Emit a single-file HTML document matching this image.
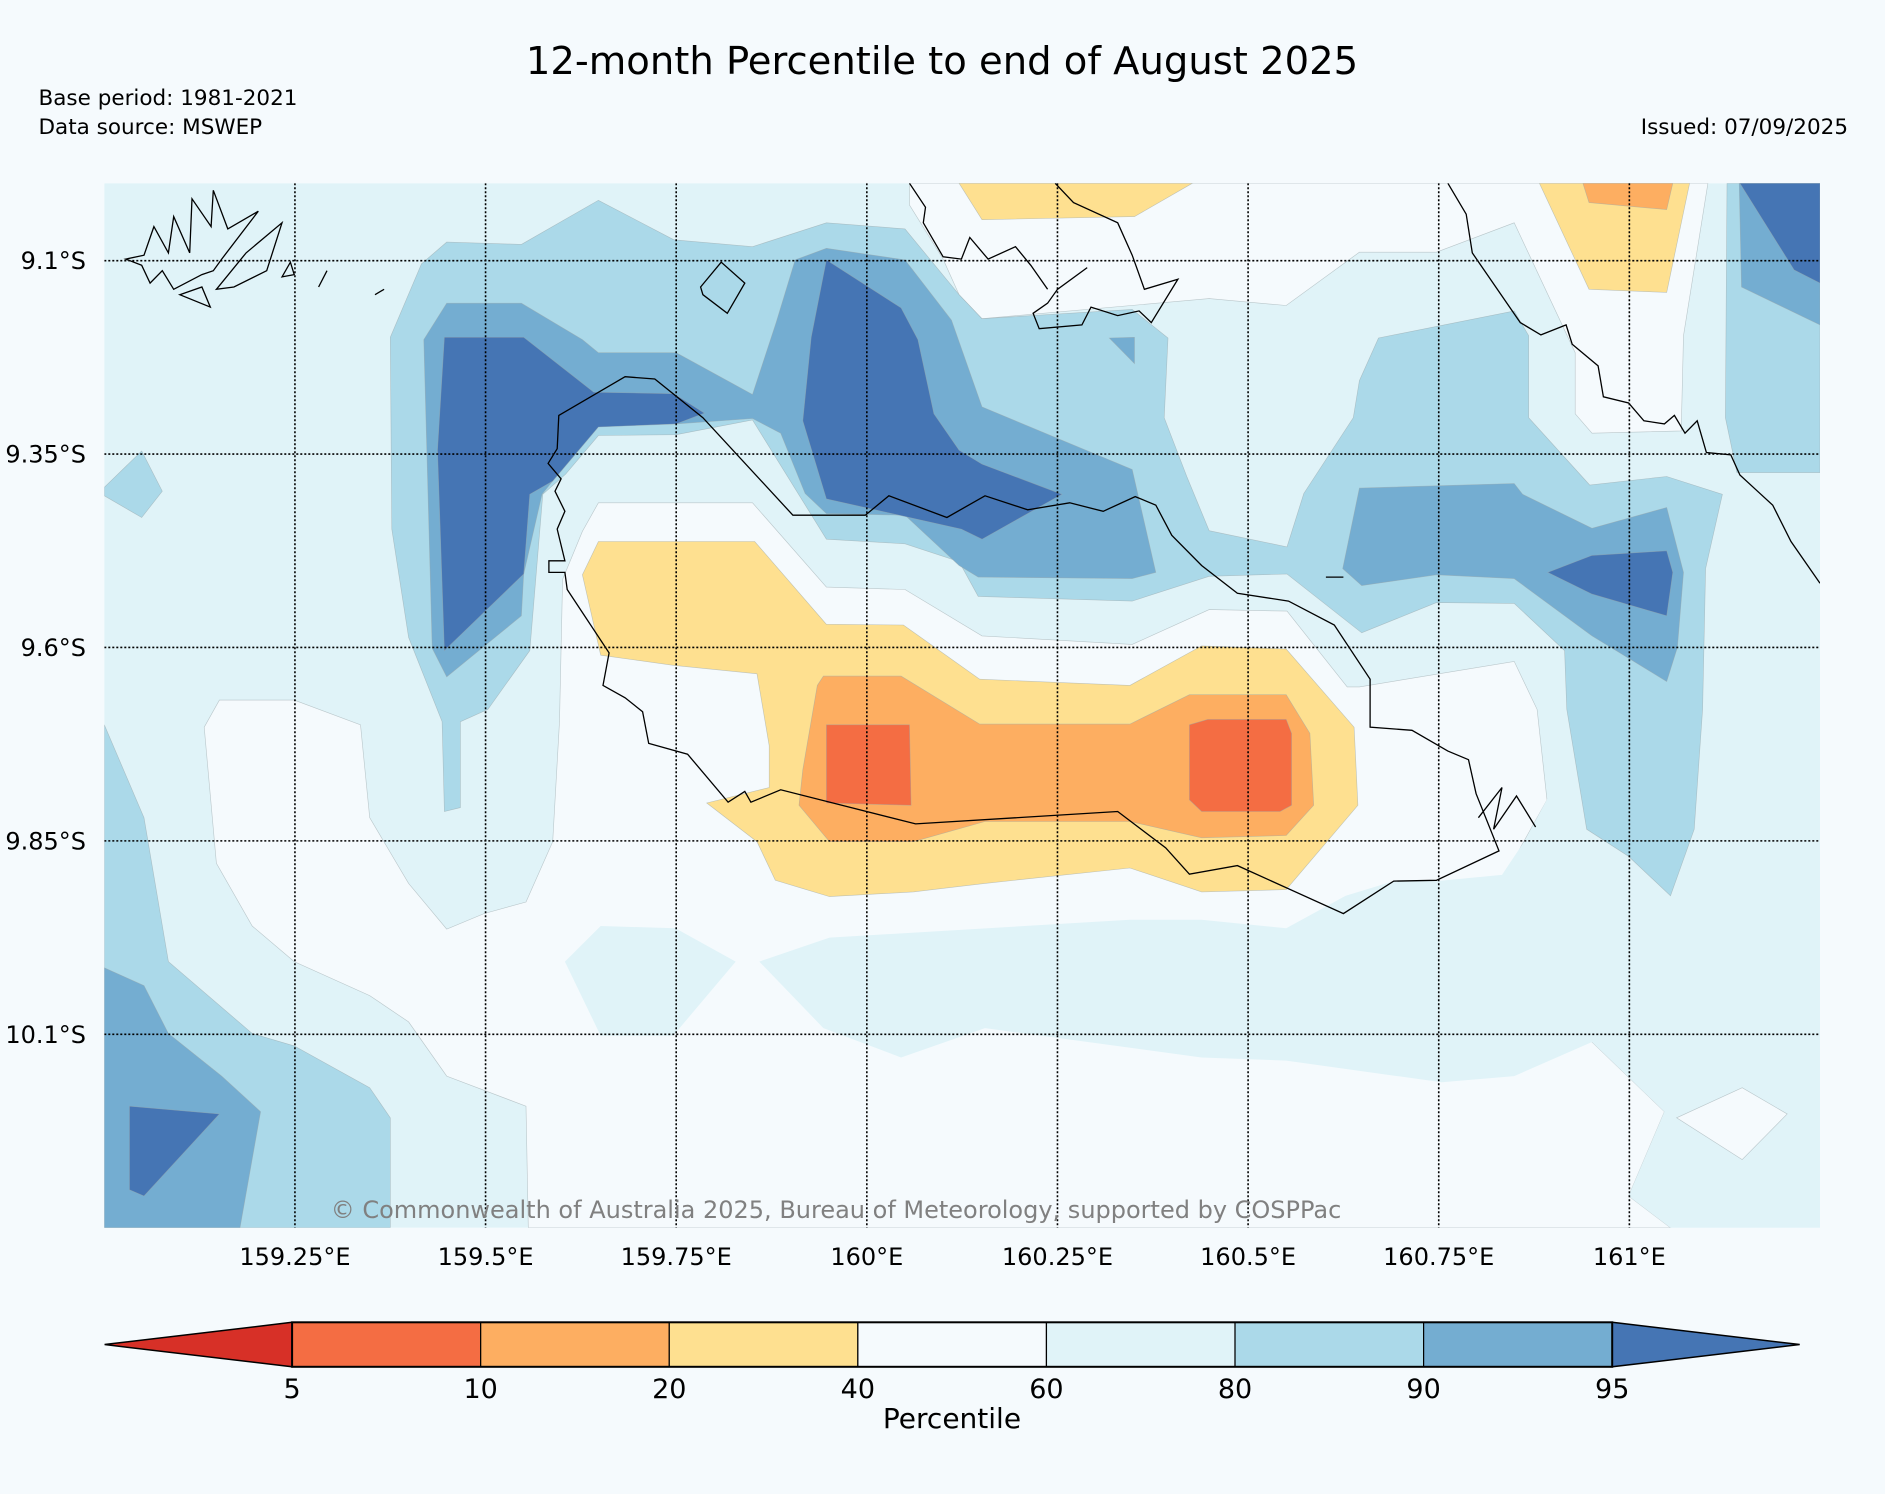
<!DOCTYPE html>
<html><head><meta charset="utf-8"><style>
html,body{margin:0;padding:0;background:#f5fafd;}
svg{display:block;font-family:"DejaVu Sans","Liberation Sans",sans-serif;}
</style></head><body>
<svg id="chart" width="1885" height="1494" viewBox="0 0 1885 1494" xmlns="http://www.w3.org/2000/svg">
<rect x="0" y="0" width="1885" height="1494" fill="#f5fafd"/>
<text x="942" y="74" font-size="38.5" text-anchor="middle" fill="#000">12-month Percentile to end of August 2025</text>
<text x="38.5" y="105" font-size="21.5" fill="#000">Base period: 1981-2021</text>
<text x="38.5" y="134" font-size="21.5" fill="#000">Data source: MSWEP</text>
<text x="1848" y="134" font-size="21.5" text-anchor="end" fill="#000">Issued: 07/09/2025</text>
<defs><clipPath id="plotclip"><rect x="104.3" y="183.3" width="1715.7" height="1044.4"/></clipPath></defs>
<g id="plot" clip-path="url(#plotclip)"></g>
<g id="axes"></g>
<g id="cbar"></g>
</svg>
<script>
// ---- data: band polygons in [lon, lat(°S)] ----
const lonMin = 159.0, lonMax = 161.25, latMin = 9.0, latMax = 10.35;
const lonTicks = [159.25, 159.5, 159.75, 160.0, 160.25, 160.5, 160.75, 161.0];
const lonTickLabels = ["159.25°E","159.5°E","159.75°E","160°E","160.25°E","160.5°E","160.75°E","161°E"];
const latTicks = [9.1, 9.35, 9.6, 9.85, 10.1];
const latTickLabels = ["9.1°S","9.35°S","9.6°S","9.85°S","10.1°S"];
const cbarLevels = [5, 10, 20, 40, 60, 80, 90, 95];
const cbarColors = ["#d73027","#f46d43","#fdae61","#fee090","#f5fafd","#e0f3f8","#abd9e9","#74add1","#4575b4"];

const band40to60 = [
 [[160.056,9.0],[161.103,9.0],[161.071,9.197],[161.068,9.320],[160.951,9.323],[160.929,9.298],[160.929,9.219],[160.849,9.051],[160.747,9.089],[160.646,9.089],[160.550,9.158],[160.449,9.149],[160.151,9.175],[160.121,9.144],[160.100,9.098],[160.056,9.028]],
 [[159.627,9.450],[159.601,9.512],[159.597,9.696],[159.588,9.851],[159.553,9.929],[159.498,9.944],[159.449,9.964],[159.399,9.905],[159.348,9.820],[159.336,9.700],[159.249,9.668],[159.151,9.668],[159.131,9.703],[159.147,9.879],[159.194,9.960],[159.249,10.006],[159.348,10.050],[159.399,10.084],[159.449,10.154],[159.553,10.193],[159.556,10.35],[161.054,10.35],[160.999,10.309],[161.046,10.200],[160.951,10.110],[160.833,9.913],[160.857,9.859],[160.892,9.797],[160.879,9.680],[160.849,9.618],[160.646,9.651],[160.630,9.651],[160.551,9.553],[160.449,9.551],[160.348,9.596],[160.151,9.585],[160.050,9.525],[159.947,9.522],[159.850,9.413],[159.648,9.413]]
];
const band60to80 = [
 [[159.859,10.006],[159.951,9.975],[160.345,9.952],[160.439,9.952],[160.550,9.963],[160.628,9.921],[160.691,9.902],[160.747,9.902],[160.833,9.894],[160.862,9.851],[160.896,9.789],[161.25,9.789],[161.25,10.35],[161.054,10.35],[160.999,10.309],[161.046,10.200],[160.951,10.110],[160.849,10.154],[160.754,10.162],[160.550,10.134],[160.439,10.130],[160.155,10.092],[160.045,10.130],[159.943,10.092]],
 [[159.604,10.006],[159.651,9.960],[159.749,9.963],[159.828,10.006],[159.746,10.102],[159.651,10.102]]
];
const band40to60Islands = [
 [[161.062,10.208],[161.148,10.169],[161.207,10.203],[161.148,10.262]]
];
const band20to40 = [
 [[159.627,9.506],[159.648,9.463],[159.853,9.463],[159.947,9.570],[160.048,9.571],[160.148,9.641],[160.345,9.649],[160.439,9.598],[160.550,9.602],[160.639,9.703],[160.644,9.804],[160.550,9.913],[160.439,9.916],[160.345,9.885],[160.155,9.905],[160.061,9.916],[159.951,9.922],[159.880,9.901],[159.856,9.851],[159.790,9.801],[159.872,9.781],[159.872,9.727],[159.856,9.634],[159.746,9.623],[159.651,9.610]],
 [[160.121,9.0],[160.151,9.047],[160.351,9.043],[160.427,9.0]],
 [[160.882,9.0],[160.947,9.137],[161.049,9.141],[161.079,9.0]]
];
const band10to20 = [
 [[159.916,9.758],[159.935,9.649],[159.943,9.637],[160.045,9.637],[160.148,9.699],[160.345,9.699],[160.423,9.661],[160.550,9.661],[160.581,9.711],[160.586,9.804],[160.550,9.843],[160.439,9.846],[160.345,9.825],[160.155,9.825],[160.061,9.851],[159.951,9.851],[159.911,9.804]],
 [[160.939,9.0],[160.947,9.025],[161.049,9.034],[161.057,9.0]]
];
const band5to10 = [
 [[159.947,9.700],[160.056,9.700],[160.058,9.804],[159.947,9.801]],
 [[160.423,9.700],[160.447,9.693],[160.550,9.693],[160.557,9.711],[160.557,9.804],[160.542,9.812],[160.439,9.812],[160.423,9.797]]
];
const band80to90 = [
 [[159.375,9.199],[159.416,9.104],[159.449,9.076],[159.547,9.079],[159.648,9.022],[159.747,9.073],[159.850,9.082],[159.947,9.051],[160.050,9.059],[160.121,9.144],[160.151,9.175],[160.348,9.163],[160.395,9.200],[160.390,9.303],[160.420,9.380],[160.449,9.449],[160.551,9.470],[160.573,9.401],[160.638,9.303],[160.646,9.255],[160.671,9.200],[160.849,9.165],[160.868,9.197],[160.868,9.303],[160.948,9.390],[161.049,9.379],[161.122,9.402],[161.100,9.498],[161.096,9.680],[161.085,9.835],[161.054,9.921],[160.999,9.870],[160.944,9.835],[160.918,9.680],[160.915,9.604],[160.849,9.543],[160.747,9.542],[160.649,9.581],[160.551,9.505],[160.449,9.508],[160.348,9.540],[160.146,9.534],[160.121,9.489],[160.050,9.466],[159.947,9.460],[159.850,9.306],[159.750,9.325],[159.648,9.326],[159.605,9.376],[159.575,9.402],[159.558,9.604],[159.503,9.680],[159.467,9.696],[159.467,9.807],[159.446,9.812],[159.443,9.696],[159.399,9.587],[159.377,9.447]],
 [[161.128,9.0],[161.126,9.303],[161.141,9.374],[161.25,9.374],[161.25,9.0]],
 [[159.0,9.700],[159.052,9.820],[159.084,10.006],[159.194,10.099],[159.249,10.115],[159.348,10.169],[159.375,10.208],[159.375,10.35],[159.0,10.35]],
 [[159.0,9.393],[159.049,9.346],[159.076,9.398],[159.049,9.432],[159.0,9.404]]
];
const band90to95 = [
 [[159.419,9.202],[159.449,9.155],[159.547,9.155],[159.627,9.202],[159.648,9.219],[159.750,9.219],[159.850,9.273],[159.881,9.180],[159.906,9.099],[159.947,9.084],[160.050,9.099],[160.111,9.177],[160.151,9.289],[160.348,9.370],[160.379,9.503],[160.348,9.511],[160.146,9.509],[160.121,9.494],[160.050,9.429],[159.947,9.427],[159.919,9.401],[159.887,9.323],[159.850,9.304],[159.750,9.311],[159.648,9.311],[159.574,9.402],[159.550,9.505],[159.547,9.559],[159.449,9.638],[159.430,9.601]],
 [[160.646,9.394],[160.849,9.388],[160.860,9.402],[160.951,9.446],[161.049,9.419],[161.071,9.503],[161.063,9.600],[161.049,9.644],[160.951,9.585],[160.849,9.511],[160.747,9.506],[160.649,9.520],[160.624,9.498]],
 [[160.318,9.200],[160.351,9.199],[160.351,9.233]],
 [[161.144,9.0],[161.147,9.134],[161.25,9.183],[161.25,9.0]],
 [[159.0,10.014],[159.052,10.037],[159.084,10.099],[159.154,10.154],[159.205,10.200],[159.178,10.35],[159.0,10.35]]
];
const bandAbove95 = [
 [[159.446,9.199],[159.550,9.199],[159.642,9.270],[159.747,9.272],[159.787,9.297],[159.750,9.311],[159.648,9.315],[159.588,9.385],[159.558,9.402],[159.550,9.505],[159.446,9.604],[159.437,9.345]],
 [[159.947,9.099],[160.045,9.161],[160.067,9.202],[160.088,9.298],[160.121,9.345],[160.151,9.363],[160.256,9.402],[160.151,9.460],[160.124,9.447],[159.947,9.408],[159.916,9.307],[159.927,9.199]],
 [[160.893,9.503],[160.951,9.481],[161.049,9.475],[161.057,9.503],[161.049,9.559],[160.951,9.531]],
 [[161.145,9.0],[161.216,9.112],[161.25,9.129],[161.25,9.0]],
 [[159.033,10.193],[159.151,10.203],[159.052,10.309],[159.033,10.301]]
];
const coastClosed = [
 [[159.596,9.300],[159.683,9.250],[159.722,9.253],[159.785,9.303],[159.903,9.429],[159.998,9.429],[160.029,9.404],[160.105,9.432],[160.155,9.404],[160.211,9.422],[160.266,9.413],[160.310,9.424],[160.352,9.405],[160.379,9.416],[160.400,9.455],[160.439,9.494],[160.486,9.530],[160.553,9.540],[160.613,9.571],[160.660,9.641],[160.660,9.703],[160.715,9.707],[160.762,9.734],[160.789,9.745],[160.799,9.789],[160.829,9.863],[160.747,9.901],[160.691,9.902],[160.625,9.944],[160.486,9.882],[160.423,9.893],[160.392,9.859],[160.329,9.812],[160.064,9.828],[159.887,9.784],[159.848,9.800],[159.840,9.786],[159.818,9.800],[159.765,9.738],[159.714,9.724],[159.706,9.683],[159.683,9.665],[159.654,9.649],[159.662,9.607],[159.607,9.525],[159.604,9.503],[159.583,9.503],[159.583,9.488],[159.604,9.488],[159.594,9.447],[159.604,9.424],[159.591,9.398],[159.599,9.382],[159.582,9.362],[159.594,9.343]],
 [[159.028,9.098],[159.052,9.093],[159.065,9.056],[159.084,9.090],[159.091,9.043],[159.112,9.090],[159.115,9.020],[159.140,9.056],[159.143,9.009],[159.162,9.059],[159.202,9.036],[159.154,9.098],[159.143,9.113],[159.128,9.118],[159.091,9.137],[159.076,9.113],[159.060,9.129],[159.049,9.106]],
 [[159.147,9.137],[159.186,9.090],[159.233,9.051],[159.213,9.113],[159.170,9.134]],
 [[159.099,9.144],[159.128,9.134],[159.139,9.160]],
 [[159.233,9.121],[159.244,9.102],[159.249,9.118]],
 [[159.782,9.134],[159.809,9.102],[159.840,9.129],[159.817,9.168],[159.785,9.144]]
];
const coastOpen = [
 [[160.762,9.0],[160.786,9.040],[160.794,9.090],[160.857,9.180],[160.884,9.196],[160.917,9.183],[160.925,9.208],[160.959,9.236],[160.966,9.276],[160.999,9.284],[161.019,9.307],[161.046,9.311],[161.059,9.300],[161.073,9.323],[161.089,9.307],[161.101,9.348],[161.133,9.351],[161.145,9.377],[161.168,9.398],[161.188,9.416],[161.212,9.463],[161.25,9.517]],
 [[160.056,9.0],[160.077,9.031],[160.074,9.051],[160.100,9.095],[160.124,9.098],[160.135,9.070],[160.159,9.098],[160.195,9.082],[160.215,9.106],[160.237,9.137]],
 [[160.247,9.0],[160.271,9.025],[160.329,9.051],[160.348,9.093],[160.364,9.137],[160.408,9.124],[160.373,9.180],[160.357,9.165],[160.329,9.171],[160.294,9.160],[160.282,9.183],[160.226,9.188],[160.218,9.168],[160.237,9.155],[160.250,9.137],[160.289,9.109]],
 [[160.802,9.820],[160.833,9.781],[160.822,9.835],[160.852,9.792],[160.877,9.832]],
 [[159.281,9.134],[159.292,9.113]],
 [[159.355,9.144],[159.367,9.137]],
 [[160.602,9.509],[160.625,9.509]]
];

// ---- axis functions ----
const PX0 = 104.3, PX1 = 1820.0, PY0 = 183.3, PY1 = 1227.7;
function X(lon){ return PX0 + (lon - lonMin) / (lonMax - lonMin) * (PX1 - PX0); }
function Y(lat){ return PY0 + (lat - latMin) / (latMax - latMin) * (PY1 - PY0); }
const NS = "http://www.w3.org/2000/svg";
const plot = document.getElementById('plot');
const axes = document.getElementById('axes');
const cbar = document.getElementById('cbar');
function ptsStr(poly){ return poly.map(p => X(p[0]).toFixed(1) + ',' + Y(p[1]).toFixed(1)).join(' '); }

const base = document.createElementNS(NS, 'rect');
base.setAttribute('x', PX0); base.setAttribute('y', PY0);
base.setAttribute('width', PX1 - PX0); base.setAttribute('height', PY1 - PY0);
base.setAttribute('fill', '#e0f3f8');


plot.appendChild(base);

const layers = [
 [band40to60, '#f5fafd', 'band-40-60', true],
 [band60to80, '#e0f3f8', 'band-60-80', false],
 [band40to60Islands, '#f5fafd', 'band-40-60-island', true],
 [band20to40, '#fee090', 'band-20-40', true],
 [band10to20, '#fdae61', 'band-10-20', true],
 [band5to10, '#f46d43', 'band-5-10', true],
 [band80to90, '#abd9e9', 'band-80-90', true],
 [band90to95, '#74add1', 'band-90-95', true],
 [bandAbove95, '#4575b4', 'band-above-95', true]
];
layers.forEach(function(layer){
  layer[0].forEach(function(poly){
    const el = document.createElementNS(NS, 'polygon');
    el.setAttribute('points', ptsStr(poly));
    el.setAttribute('fill', layer[1]);
    if (layer[3]) {
      el.setAttribute('stroke', '#9aa6aa');
      el.setAttribute('stroke-width', '0.6');
      el.setAttribute('stroke-opacity', '0.6');
    }
    
    
    plot.appendChild(el);
  });
});
coastClosed.forEach(function(poly){
  const el = document.createElementNS(NS, 'polygon');
  el.setAttribute('points', ptsStr(poly));
  el.setAttribute('fill', 'none'); el.setAttribute('stroke', '#000'); el.setAttribute('stroke-width', '1.3');
  
  
  plot.appendChild(el);
});
coastOpen.forEach(function(poly){
  const el = document.createElementNS(NS, 'polyline');
  el.setAttribute('points', ptsStr(poly));
  el.setAttribute('fill', 'none'); el.setAttribute('stroke', '#000'); el.setAttribute('stroke-width', '1.3');
  
  
  plot.appendChild(el);
});
// gridlines
lonTicks.forEach(function(v, i){
  const l = document.createElementNS(NS, 'line');
  l.setAttribute('x1', X(v)); l.setAttribute('x2', X(v)); l.setAttribute('y1', PY0); l.setAttribute('y2', PY1);
  l.setAttribute('stroke', '#000'); l.setAttribute('stroke-width', '1.6'); l.setAttribute('stroke-dasharray', '2,2');
  
  
  plot.appendChild(l);
  const t = document.createElementNS(NS, 'text');
  t.setAttribute('x', X(v)); t.setAttribute('y', 1265); t.setAttribute('font-size', '24'); t.setAttribute('text-anchor', 'middle');
  t.textContent = lonTickLabels[i];
  
  
  axes.appendChild(t);
});
latTicks.forEach(function(v, i){
  const l = document.createElementNS(NS, 'line');
  l.setAttribute('y1', Y(v)); l.setAttribute('y2', Y(v)); l.setAttribute('x1', PX0); l.setAttribute('x2', PX1);
  l.setAttribute('stroke', '#000'); l.setAttribute('stroke-width', '1.6'); l.setAttribute('stroke-dasharray', '2,2');
  
  
  plot.appendChild(l);
  const t = document.createElementNS(NS, 'text');
  t.setAttribute('x', 86); t.setAttribute('y', Y(v) + 8.5); t.setAttribute('font-size', '24'); t.setAttribute('text-anchor', 'end');
  t.textContent = latTickLabels[i];
  
  
  axes.appendChild(t);
});
const cp = document.createElementNS(NS, 'text');
cp.setAttribute('x', 836); cp.setAttribute('y', 1218); cp.setAttribute('font-size', '24'); cp.setAttribute('text-anchor', 'middle');
cp.setAttribute('fill', '#808080');
cp.textContent = '© Commonwealth of Australia 2025, Bureau of Meteorology, supported by COSPPac';


axes.appendChild(cp);

// colorbar
const CB0 = 292.1, CB1 = 1612.2, CBT = 1322.3, CBB = 1366.8, TIPL = 104.6, TIPR = 1799.7;
const segW = (CB1 - CB0) / (cbarLevels.length - 1);
function CBX(i){ return CB0 + i * segW; }
const midY = (CBT + CBB) / 2;
const lt = document.createElementNS(NS, 'polygon');
lt.setAttribute('points', CB0 + ',' + CBT + ' ' + TIPL + ',' + midY + ' ' + CB0 + ',' + CBB);
lt.setAttribute('fill', cbarColors[0]); lt.setAttribute('stroke', '#000'); lt.setAttribute('stroke-width', '1.5');


cbar.appendChild(lt);
const rt = document.createElementNS(NS, 'polygon');
rt.setAttribute('points', CB1 + ',' + CBT + ' ' + TIPR + ',' + midY + ' ' + CB1 + ',' + CBB);
rt.setAttribute('fill', cbarColors[cbarColors.length - 1]); rt.setAttribute('stroke', '#000'); rt.setAttribute('stroke-width', '1.5');


cbar.appendChild(rt);
for (let i = 0; i < cbarLevels.length - 1; i++) {
  const r = document.createElementNS(NS, 'rect');
  r.setAttribute('x', CBX(i)); r.setAttribute('y', CBT); r.setAttribute('width', segW); r.setAttribute('height', CBB - CBT);
  r.setAttribute('fill', cbarColors[i + 1]); r.setAttribute('stroke', '#000'); r.setAttribute('stroke-width', '1.2');
  
  
  cbar.appendChild(r);
}
const frame = document.createElementNS(NS, 'rect');
frame.setAttribute('x', CB0); frame.setAttribute('y', CBT); frame.setAttribute('width', CB1 - CB0); frame.setAttribute('height', CBB - CBT);
frame.setAttribute('fill', 'none'); frame.setAttribute('stroke', '#000'); frame.setAttribute('stroke-width', '2');


cbar.appendChild(frame);
cbarLevels.forEach(function(v, i){
  const t = document.createElementNS(NS, 'text');
  t.setAttribute('x', CBX(i)); t.setAttribute('y', 1398); t.setAttribute('font-size', '27'); t.setAttribute('text-anchor', 'middle');
  t.textContent = String(v);
  
  
  cbar.appendChild(t);
});
const ct = document.createElementNS(NS, 'text');
ct.setAttribute('x', 952); ct.setAttribute('y', 1428); ct.setAttribute('font-size', '28'); ct.setAttribute('text-anchor', 'middle');
ct.textContent = 'Percentile';


cbar.appendChild(ct);
</script>
</body></html>
